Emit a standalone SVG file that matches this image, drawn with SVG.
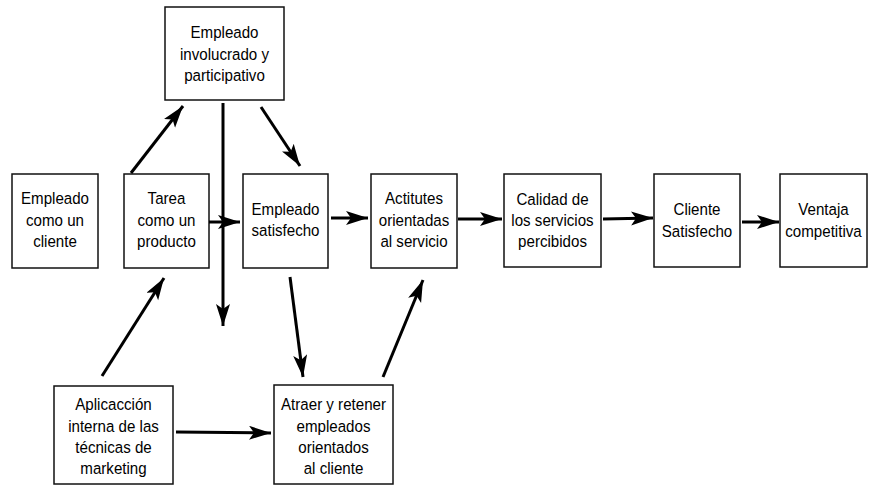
<svg xmlns="http://www.w3.org/2000/svg" width="870" height="486" viewBox="0 0 870 486">
<style>
.box{fill:#fff;stroke:#111;stroke-width:1.5}
text{font-family:"Liberation Sans",Arial,sans-serif;font-size:16.8px;fill:#000;text-anchor:middle}
.c line{stroke:#000;stroke-width:3;marker-end:url(#ah)}
</style>
<defs>
<marker id="ah" markerUnits="userSpaceOnUse" markerWidth="26" markerHeight="16" refX="22" refY="7" orient="auto">
<path d="M0,0 L22,7 L0,14 L5,7 z" fill="#000"/>
</marker>
</defs>
<rect width="870" height="486" fill="#fff"/>
<g id="n_involucrado"><rect class="box" x="165" y="7" width="119" height="93"/><g transform="translate(224.5 0) scale(0.9 1)"><text x="0" y="38">Empleado</text><text x="0" y="60">involucrado y</text><text x="0" y="81">participativo</text></g></g>
<g id="n_cliente"><rect class="box" x="12" y="174" width="86" height="94"/><g transform="translate(55 0) scale(0.9 1)"><text x="0" y="204">Empleado</text><text x="0" y="226">como un</text><text x="0" y="247">cliente</text></g></g>
<g id="n_tarea"><rect class="box" x="124" y="174" width="85" height="94"/><g transform="translate(166.5 0) scale(0.9 1)"><text x="0" y="204">Tarea</text><text x="0" y="226">como un</text><text x="0" y="247">producto</text></g></g>
<g id="n_satisfecho"><rect class="box" x="243" y="174" width="85" height="94"/><g transform="translate(285.5 0) scale(0.9 1)"><text x="0" y="215">Empleado</text><text x="0" y="236">satisfecho</text></g></g>
<g id="n_actitudes"><rect class="box" x="371" y="174" width="86" height="94"/><g transform="translate(414 0) scale(0.9 1)"><text x="0" y="204">Actitutes</text><text x="0" y="226">orientadas</text><text x="0" y="247">al servicio</text></g></g>
<g id="n_calidad"><rect class="box" x="504" y="174" width="97" height="93"/><g transform="translate(552.5 0) scale(0.9 1)"><text x="0" y="205">Calidad de</text><text x="0" y="226">los servicios</text><text x="0" y="247">percibidos</text></g></g>
<g id="n_clientesat"><rect class="box" x="654" y="174" width="86" height="93"/><g transform="translate(697 0) scale(0.9 1)"><text x="0" y="215">Cliente</text><text x="0" y="237">Satisfecho</text></g></g>
<g id="n_ventaja"><rect class="box" x="780" y="174" width="87" height="93"/><g transform="translate(823.5 0) scale(0.9 1)"><text x="0" y="215">Ventaja</text><text x="0" y="237">competitiva</text></g></g>
<g id="n_aplicacion"><rect class="box" x="54" y="386" width="119" height="98"/><g transform="translate(113.5 0) scale(0.9 1)"><text x="0" y="410">Aplicacción</text><text x="0" y="432">interna de las</text><text x="0" y="453">técnicas de</text><text x="0" y="474">marketing</text></g></g>
<g id="n_atraer"><rect class="box" x="274" y="385" width="119" height="99"/><g transform="translate(333.5 0) scale(0.9 1)"><text x="0" y="410">Atraer y retener</text><text x="0" y="432">empleados</text><text x="0" y="453">orientados</text><text x="0" y="474">al cliente</text></g></g>
<g class="c" id="connectors">
<line x1="131" y1="173" x2="183" y2="106"/>
<line x1="261" y1="107" x2="300" y2="166"/>
<line x1="223" y1="103" x2="223" y2="326"/>
<line x1="209" y1="222" x2="240" y2="222"/>
<line x1="331" y1="218" x2="368" y2="218"/>
<line x1="458" y1="219" x2="502" y2="219"/>
<line x1="603" y1="219" x2="653" y2="218"/>
<line x1="742" y1="222" x2="779" y2="222"/>
<line x1="102" y1="376" x2="164" y2="278"/>
<line x1="290" y1="277" x2="303" y2="377"/>
<line x1="383" y1="377" x2="423" y2="280"/>
<line x1="176" y1="432" x2="271" y2="433"/>
</g>
</svg>
